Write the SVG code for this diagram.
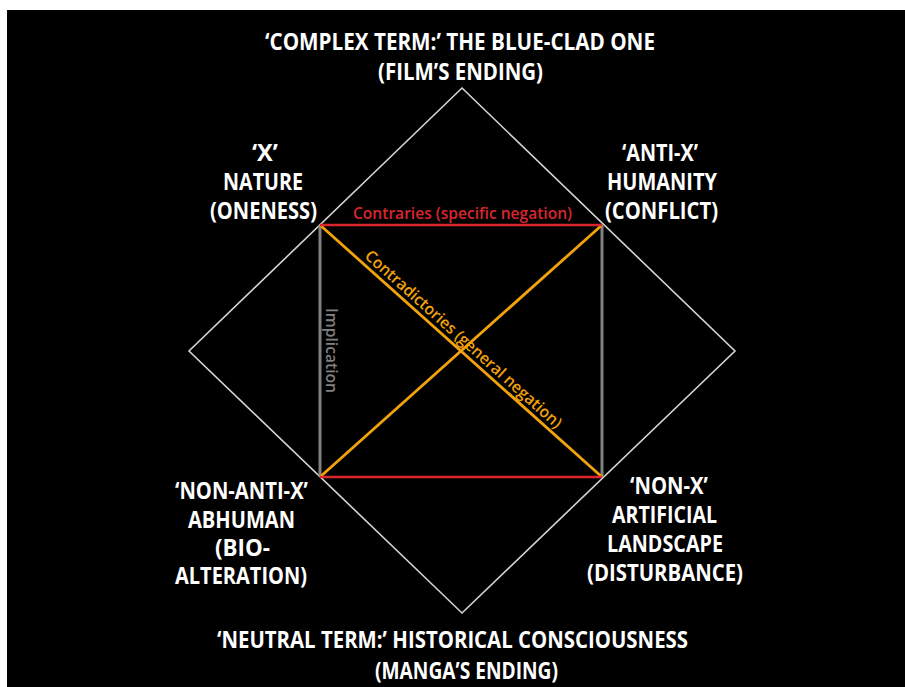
<svg xmlns="http://www.w3.org/2000/svg" width="905" height="687" viewBox="0 0 905 687">
<style>
.lbl{font-family:"Open Sans","Liberation Sans",sans-serif;font-weight:bold;font-size:23px;fill:#ffffff}
.sm{font-family:"Open Sans","Liberation Sans",sans-serif;font-weight:600;font-size:16px}
.dia{fill:none;stroke:#d4d4d4;stroke-width:1.6}
.red{stroke:#d9262e;stroke-width:2.5}
.org{stroke:#f2a20c;stroke-width:2.8}
.gry{stroke:#808080;stroke-width:3}
</style>
<rect x="0" y="0" width="905" height="687" fill="#ffffff"/>
<rect x="7" y="10" width="898" height="677" fill="#000000"/>
<g id="connectors">
<polygon class="dia" points="462,88 735,351 462,613 189,351"/>
<line class="gry" x1="320" y1="225" x2="320" y2="477"/>
<line class="gry" x1="602" y1="225" x2="602" y2="477"/>
<line class="org" x1="320" y1="225" x2="602" y2="477"/>
<line class="org" x1="602" y1="225" x2="320" y2="477"/>
<line class="red" x1="320" y1="225" x2="602" y2="225"/>
<line class="red" x1="320" y1="477" x2="602" y2="477"/>
<text class="sm" fill="#d9262e" x="353" y="219" textLength="219" lengthAdjust="spacingAndGlyphs">Contraries (specific negation)</text>
<text class="sm" fill="#808080" transform="translate(326,308) rotate(90)" x="0" y="0" textLength="85" lengthAdjust="spacingAndGlyphs">Implication</text>
<text class="sm" fill="#f2a20c" transform="translate(461,351) rotate(41.8)" x="-6" y="-5" text-anchor="middle" textLength="258" lengthAdjust="spacingAndGlyphs">Contradictories (general negation)</text>
</g>
<g id="complex-term">
<text class="lbl" x="265" y="50" textLength="390" lengthAdjust="spacingAndGlyphs">‘COMPLEX TERM:’ THE BLUE-CLAD ONE</text>
<text class="lbl" x="378" y="80" textLength="165" lengthAdjust="spacingAndGlyphs">(FILM’S ENDING)</text>
</g>
<g id="x-nature">
<text class="lbl" x="252" y="161" textLength="26" lengthAdjust="spacingAndGlyphs">‘X’</text>
<text class="lbl" x="223" y="190" textLength="80" lengthAdjust="spacingAndGlyphs">NATURE</text>
<text class="lbl" x="210" y="219" textLength="107" lengthAdjust="spacingAndGlyphs">(ONENESS)</text>
</g>
<g id="anti-x-humanity">
<text class="lbl" x="622" y="161" textLength="76" lengthAdjust="spacingAndGlyphs">‘ANTI-X’</text>
<text class="lbl" x="607" y="190" textLength="110" lengthAdjust="spacingAndGlyphs">HUMANITY</text>
<text class="lbl" x="605" y="219" textLength="113" lengthAdjust="spacingAndGlyphs">(CONFLICT)</text>
</g>
<g id="non-anti-x-abhuman">
<text class="lbl" x="175" y="499" textLength="133" lengthAdjust="spacingAndGlyphs">‘NON-ANTI-X’</text>
<text class="lbl" x="188" y="528" textLength="107" lengthAdjust="spacingAndGlyphs">ABHUMAN</text>
<text class="lbl" x="215" y="556" textLength="55" lengthAdjust="spacingAndGlyphs">(BIO-</text>
<text class="lbl" x="175" y="584" textLength="132" lengthAdjust="spacingAndGlyphs">ALTERATION)</text>
</g>
<g id="non-x-artificial">
<text class="lbl" x="630" y="494" textLength="78" lengthAdjust="spacingAndGlyphs">‘NON-X’</text>
<text class="lbl" x="612" y="523" textLength="105" lengthAdjust="spacingAndGlyphs">ARTIFICIAL</text>
<text class="lbl" x="607" y="552" textLength="116" lengthAdjust="spacingAndGlyphs">LANDSCAPE</text>
<text class="lbl" x="587" y="581" textLength="156" lengthAdjust="spacingAndGlyphs">(DISTURBANCE)</text>
</g>
<g id="neutral-term">
<text class="lbl" x="217" y="648" textLength="471" lengthAdjust="spacingAndGlyphs">‘NEUTRAL TERM:’ HISTORICAL CONSCIOUSNESS</text>
<text class="lbl" x="375" y="679" textLength="183" lengthAdjust="spacingAndGlyphs">(MANGA’S ENDING)</text>
</g>
</svg>
